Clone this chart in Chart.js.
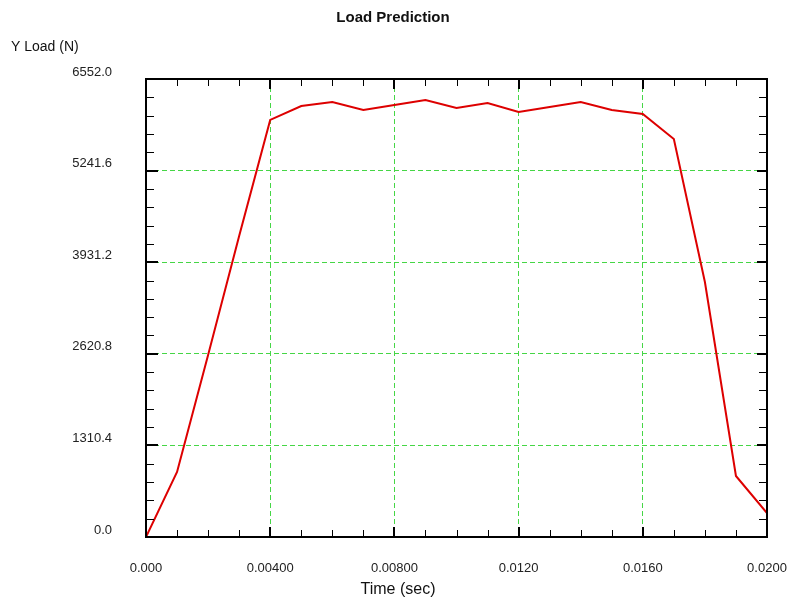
<!DOCTYPE html>
<html>
<head>
  <meta charset="utf-8">
  <title>Load Prediction</title>
  <script src="https://cdn.jsdelivr.net/npm/chart.js@4.4.1/dist/chart.umd.min.js"></script>
  <style>
    body { margin: 0; background: #fff; }
    canvas { display: block; }
  </style>
</head>
<body>
  <canvas id="loadChart" width="788" height="600"></canvas>

  <script>
    // sample times, s
    const timeValues = [
      0.000, 0.001, 0.002, 0.003, 0.004, 0.005, 0.006, 0.007, 0.008, 0.009, 0.010,
      0.011, 0.012, 0.013, 0.014, 0.015, 0.016, 0.017, 0.018, 0.019, 0.020
    ];
    // predicted Y load, N
    const loadValues = [
      0, 930, 2604, 4306, 5966, 6166, 6223, 6109, 6180, 6252, 6137,
      6209, 6080, 6152, 6223, 6109, 6052, 5694, 3648, 873, 343
    ];
    // labels on the major ticks
    const xTickLabels = ['0.000', '0.00400', '0.00800', '0.0120', '0.0160', '0.0200'];
    const yTickLabels = ['0.0', '1310.4', '2620.8', '3931.2', '5241.6', '6552.0'];

    const X_MAX = 0.02, X_STEP = 0.001, X_MAJOR = 4;   // minor tick every 0.001, major every 4th
    const Y_MAX = 6552, Y_STEP = 262.08, Y_MAJOR = 5;  // minor tick every 262.08, major every 5th

    const FONT = 'Arial, "Liberation Sans", sans-serif';
    const GRID_GREEN = '#46d646';

    // white background, frame, inside tick marks and the free-standing texts
    const frameTicks = {
      id: 'frameTicks',
      beforeDraw(chart) {
        const ctx = chart.ctx;
        ctx.save();
        ctx.fillStyle = '#fff';
        ctx.fillRect(0, 0, chart.width, chart.height);
        ctx.restore();
      },
      afterDraw(chart) {
        const { ctx, chartArea: a, scales: { x, y } } = chart;
        const seg = (x1, y1, x2, y2) => {
          ctx.beginPath();
          ctx.moveTo(x1, y1);
          ctx.lineTo(x2, y2);
          ctx.stroke();
        };
        ctx.save();
        ctx.strokeStyle = '#000';

        x.ticks.forEach((t, i) => {
          const major = i % X_MAJOR === 0;
          const px = Math.round(x.getPixelForValue(t.value)) + (major ? 0 : 0.5);
          ctx.lineWidth = major ? 2 : 1;
          seg(px, a.bottom, px, a.bottom - (major ? 10 : 7));
          seg(px, a.top, px, a.top + (major ? 10 : 7));
        });
        y.ticks.forEach((t, i) => {
          const major = i % Y_MAJOR === 0;
          const py = Math.round(y.getPixelForValue(t.value)) + (major ? 0 : 0.5);
          ctx.lineWidth = major ? 2 : 1;
          seg(a.left, py, a.left + (major ? 12 : 8), py);
          seg(a.right, py, a.right - (major ? 10 : 8), py);
        });

        ctx.lineWidth = 2;
        ctx.strokeRect(a.left, a.top, a.right - a.left, a.bottom - a.top);

        ctx.fillStyle = '#111';
        ctx.textBaseline = 'middle';
        ctx.textAlign = 'center';
        ctx.font = 'bold 15px ' + FONT;
        ctx.fillText('Load Prediction', 393, 18);
        ctx.font = '16px ' + FONT;
        ctx.fillText('Time (sec)', 398, 590);
        ctx.textAlign = 'left';
        ctx.font = '14px ' + FONT;
        ctx.fillText('Y Load (N)', 11, 47);
        ctx.restore();
      }
    };

    new Chart(document.getElementById('loadChart'), {
      type: 'line',
      data: {
        datasets: [{
          label: 'Y Load (N)',
          data: timeValues.map((t, i) => ({ x: t, y: loadValues[i] })),
          borderColor: '#dd0000',
          borderWidth: 2,
          pointRadius: 0,
          tension: 0
        }]
      },
      options: {
        responsive: false,
        animation: false,
        devicePixelRatio: 1,
        layout: { padding: { top: 79, right: 21, left: 0, bottom: 0 } },
        plugins: {
          legend: { display: false },
          title: { display: false },
          tooltip: { enabled: false }
        },
        scales: {
          x: {
            type: 'linear',
            min: 0,
            max: X_MAX,
            afterFit(scale) {
              scale.height = 63;
              scale.paddingLeft = 0;
              scale.paddingRight = 0;
            },
            grid: {
              drawTicks: false,
              lineWidth: 1,
              color: (c) => (c.index % X_MAJOR === 0 ? GRID_GREEN : 'rgba(0,0,0,0)')
            },
            border: { display: false, dash: [5, 3] },
            ticks: {
              stepSize: X_STEP,
              autoSkip: false,
              maxRotation: 0,
              padding: 24,
              color: '#222',
              font: { family: FONT, size: 13 },
              callback: (v, i) => (i % X_MAJOR === 0 ? xTickLabels[i / X_MAJOR] : '')
            }
          },
          y: {
            min: 0,
            max: Y_MAX,
            afterFit(scale) {
              scale.width = 146;
              scale.paddingTop = 0;
              scale.paddingBottom = 0;
            },
            grid: {
              drawTicks: false,
              lineWidth: 1,
              color: (c) => (c.index % Y_MAJOR === 0 ? GRID_GREEN : 'rgba(0,0,0,0)')
            },
            border: { display: false, dash: [5, 3] },
            ticks: {
              stepSize: Y_STEP,
              autoSkip: false,
              padding: 34,
              labelOffset: -7,
              color: '#222',
              font: { family: FONT, size: 13 },
              callback: (v, i) => (i % Y_MAJOR === 0 ? yTickLabels[i / Y_MAJOR] : '')
            }
          }
        }
      },
      plugins: [frameTicks]
    });
  </script>
</body>
</html>
